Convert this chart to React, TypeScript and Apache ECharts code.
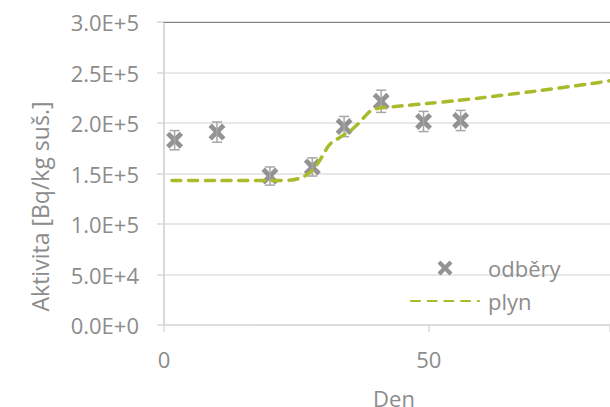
import React, { useEffect, useRef } from "react";
import * as echarts from "echarts";

const sampleDays = [2, 10, 20, 28, 34, 41, 49, 56];
const sampleValues = [183000, 191000, 147500, 156500, 196500, 221500, 201500, 202500];
const sampleErrors = [9500, 10000, 9000, 9000, 10000, 11000, 10000, 10000];

const gasDays = [1.5, 10, 20, 24, 26, 27, 28, 29, 30, 31, 32, 33, 34, 35, 36, 37, 38, 39, 40, 41, 45, 50, 55, 60, 70, 80, 85];
const gasValues = [143000, 143000, 143000, 143500, 146000, 149000, 153000, 160000, 168000, 177000, 182000, 185000, 188500, 191500, 196000, 201000, 207000, 212000, 214000, 215000, 217000, 219500, 222000, 225000, 231500, 238500, 242500];

const yTicks = [0, 50000, 100000, 150000, 200000, 250000, 300000];
const xTicks = [0, 50];

const GREY = "#8c8c8c";
const FONT = "Open Sans";
const GREEN = "#a9bb2a";
const XPATH = "path://M2,0 L5,3 L8,0 L10,2 L7,5 L10,8 L8,10 L5,7 L2,10 L0,8 L3,5 L0,2 Z";

export default function App() {
  const ref = useRef<HTMLDivElement>(null);
  useEffect(() => {
    const chart = echarts.init(ref.current!, null, { renderer: "svg" });
    const xMax = 84.2;
    chart.setOption({
      animation: false,
      backgroundColor: "#ffffff",
      textStyle: { fontFamily: FONT },
      grid: { left: 164, right: 0, top: 22, height: 303, outerBoundsMode: "none", containLabel: false },
      legend: {
        orient: "vertical",
        left: 410,
        top: 257,
        padding: 0,
        itemWidth: 68,
        itemHeight: 15,
        itemGap: 11,
        data: [
          { name: "odběry" },
          { name: "plyn", itemStyle: { opacity: 0 } },
        ],
        textStyle: { fontSize: 22, color: GREY, fontFamily: FONT, padding: [0, 0, 0, 4], lineHeight: 20 },
      },
      xAxis: [
        {
          type: "value",
          min: 0,
          max: xMax,
          interval: 50,
          name: "Den",
          nameLocation: "middle",
          nameGap: 67,
          nameTextStyle: { fontSize: 22, lineHeight: 12, color: GREY, fontFamily: FONT, padding: [0, 0, 0, 14] },
          axisLine: { show: true, lineStyle: { color: "#d9d9d9", width: 1.5 } },
          axisTick: { show: true, length: 7, lineStyle: { color: "#d9d9d9", width: 1.5 } },
          axisLabel: {
            margin: 23,
            fontSize: 22,
            color: GREY,
            fontFamily: FONT,
            formatter: (v: number) => (xTicks.includes(v) ? String(v) : ""),
          },
          splitLine: { show: false },
        },
        {
          type: "value",
          position: "top",
          min: 0,
          max: xMax,
          axisLine: { show: true, lineStyle: { color: "#7f7f7f", width: 1 } },
          axisTick: { show: false },
          axisLabel: { show: false },
          splitLine: { show: false },
        },
      ],
      yAxis: {
        type: "value",
        min: yTicks[0],
        max: yTicks[yTicks.length - 1],
        interval: 50000,
        name: "Aktivita [Bq/kg suš.]",
        nameLocation: "middle",
        nameGap: 113,
        nameTextStyle: { fontSize: 23, color: GREY, fontFamily: FONT, padding: [0, 66, 0, 0] },
        axisLine: { show: true, lineStyle: { color: "#d9d9d9", width: 2 } },
        axisTick: { show: true, length: 7, lineStyle: { color: "#d9d9d9", width: 1.5 } },
        axisLabel: {
          margin: 25,
          fontSize: 22,
          color: GREY,
          fontFamily: FONT,
          formatter: (v: number) => v.toExponential(1).toUpperCase(),
        },
        splitLine: { show: true, lineStyle: { color: "#e0e0e0", width: 1.5 } },
      },
      series: [
        {
          name: "odběry",
          type: "scatter",
          symbol: XPATH,
          symbolSize: 17,
          itemStyle: { color: "#787878" },
          data: sampleDays.map((d, i) => [d, sampleValues[i]]),
          z: 2,
        },
        {
          name: "errors",
          type: "custom",
          data: sampleDays.map((d, i) => [d, sampleValues[i] - sampleErrors[i], sampleValues[i] + sampleErrors[i]]),
          encode: { x: 0, y: [1, 2] },
          z: 3,
          renderItem: (params: any, api: any) => {
            const x = api.value(0);
            const top = api.coord([x, api.value(2)]);
            const bot = api.coord([x, api.value(1)]);
            const hw = 5;
            const style = { stroke: "#a6a6a6", lineWidth: 1.5 };
            return {
              type: "group",
              children: [
                { type: "line", shape: { x1: top[0], y1: top[1], x2: bot[0], y2: bot[1] }, style },
                { type: "line", shape: { x1: top[0] - hw, y1: top[1], x2: top[0] + hw, y2: top[1] }, style },
                { type: "line", shape: { x1: bot[0] - hw, y1: bot[1], x2: bot[0] + hw, y2: bot[1] }, style },
              ],
            };
          },
        },
        {
          name: "plyn",
          type: "line",
          showSymbol: false,
          symbol: "none",
          smooth: 0.3,
          lineStyle: { color: GREEN, width: 3.5, type: [9, 7.7], cap: "round" },
          itemStyle: { color: GREEN },
          data: gasDays.map((d, i) => [d, gasValues[i]]),
          z: 4,
        },
      ],
    });
    return () => chart.dispose();
  }, []);
  return <div ref={ref} style={{ position: "fixed", left: 0, top: 0, width: 610, height: 407 }} />;
}
